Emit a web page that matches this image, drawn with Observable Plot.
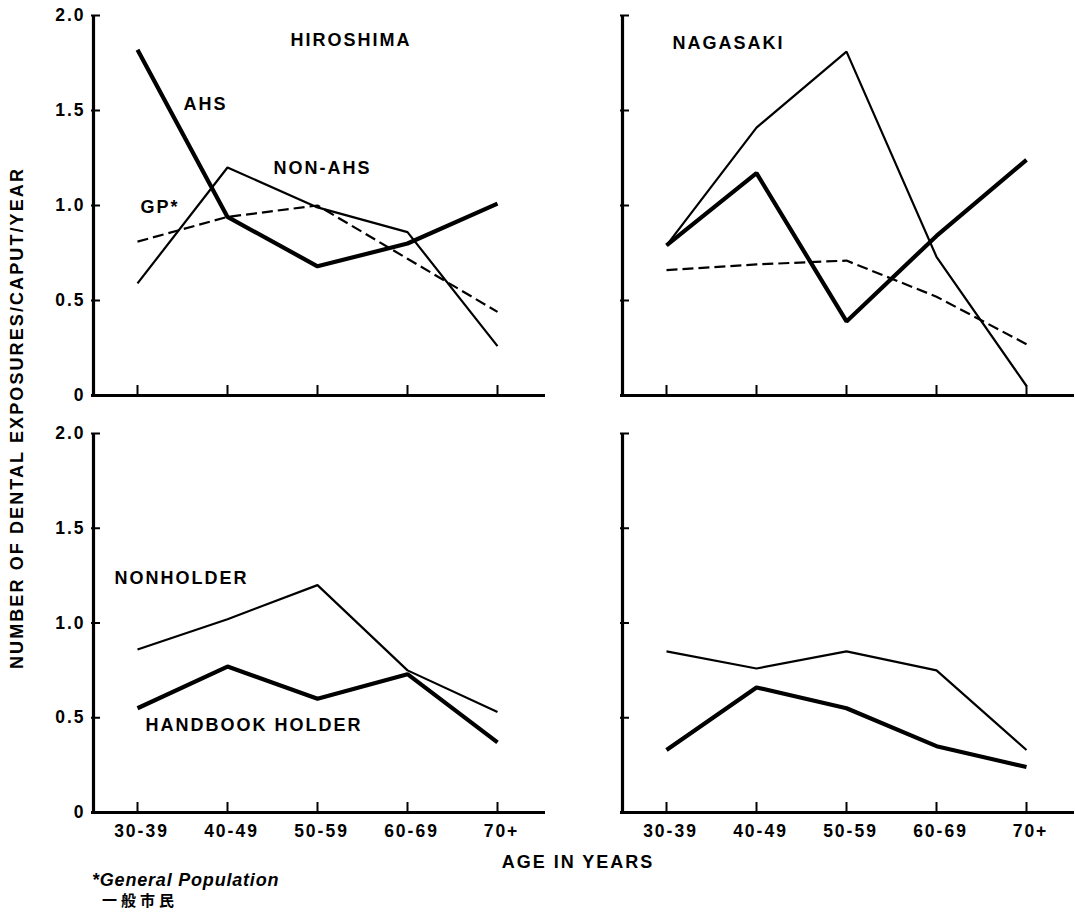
<!DOCTYPE html>
<html>
<head>
<meta charset="utf-8">
<script src="https://cdn.jsdelivr.net/npm/d3@7"></script>
<script src="https://cdn.jsdelivr.net/npm/@observablehq/plot@0.6"></script>
<style>
  body { margin: 0; background: #fff; }
  #wrap { position: relative; width: 1075px; height: 913px; overflow: hidden; font-family: "Liberation Sans", Arial, Helvetica, sans-serif; font-weight: bold; color: #000; }
  .panel { position: absolute; }
  .txt { position: absolute; white-space: nowrap; line-height: 1.15; }
</style>
</head>
<body>
<div id="wrap"></div>
<script>
// ---- data ----
const ages = ["30-39", "40-49", "50-59", "60-69", "70+"];
const yTicks = [0, 0.5, 1.0, 1.5, 2.0];
const yTickLabels = ["0", "0.5", "1.0", "1.5", "2.0"];

const hiroAHS    = [1.82, 0.94, 0.68, 0.80, 1.01];
const hiroNonAHS = [0.59, 1.20, 0.99, 0.86, 0.26];
const hiroGP     = [0.81, 0.94, 1.00, 0.72, 0.44];

const nagaAHS    = [0.79, 1.17, 0.39, 0.84, 1.24];
const nagaNonAHS = [0.79, 1.41, 1.81, 0.73, 0.05];
const nagaGP     = [0.66, 0.69, 0.71, 0.52, 0.27];

const hiroNonholder = [0.86, 1.02, 1.20, 0.75, 0.53];
const hiroHolder    = [0.55, 0.77, 0.60, 0.73, 0.37];
const nagaNonholder = [0.85, 0.76, 0.85, 0.75, 0.33];
const nagaHolder    = [0.33, 0.66, 0.55, 0.35, 0.24];

const cityNames = ["HIROSHIMA", "NAGASAKI"];
const seriesNames = ["AHS", "NON-AHS", "GP*", "NONHOLDER", "HANDBOOK HOLDER"];
const xTitle = "AGE IN YEARS";
const yTitle = "NUMBER OF DENTAL EXPOSURES/CAPUT/YEAR";
const footnote1 = "*General Population";
const footnote2 = "一般市民";

// ---- helpers ----
const toRows = (vals) => ages.map((a, i) => ({age: a, v: vals[i]}));
const THICK = 4.2, THIN = 2.2;
const FONT = "'Liberation Sans', Arial, Helvetica, sans-serif";

function lineMark(vals, style) {
  return Plot.line(toRows(vals), {x: "age", y: "v", stroke: "#000", strokeLinejoin: "miter", strokeLinecap: "butt", ...style});
}

function panel({left, top, showXLabels, showYLabels, series, texts}) {
  const W = 550, H = showXLabels ? 430 : 400;
  const mL = 91, mR = 5, mT = 15, mB = showXLabels ? 36 : 5;
  const frameW = W - mL - mR, frameH = H - mT - mB;
  const chart = Plot.plot({
    width: W,
    height: H,
    marginLeft: mL,
    marginRight: mR,
    marginTop: mT,
    marginBottom: mB,
    style: {fontFamily: FONT, fontSize: "17.5px", fontWeight: "bold", color: "#000", background: "transparent", overflow: "visible", letterSpacing: "2px"},
    x: {type: "point", domain: ages, range: [135, 498], padding: 0, tickSize: 0, tickPadding: 12,
        tickFormat: showXLabels ? (d => d) : (() => ""), label: null},
    y: {domain: [0, 2], ticks: yTicks, tickSize: 0, tickPadding: 6, label: null,
        tickFormat: showYLabels ? (d => yTickLabels[yTicks.indexOf(d)]) : (() => "")},
    marks: [
      Plot.ruleX([ages[0]], {dx: -44, y1: 0, y2: 2, stroke: "#000", strokeWidth: 3.2}),
      Plot.ruleY([0], {stroke: "#000", strokeWidth: 3.2}),
      Plot.tickX(ages, {x: d => d, insetTop: frameH - 10, stroke: "#000", strokeWidth: 2}),
      Plot.tickY(yTicks, {y: d => d, insetRight: frameW - 9, stroke: "#000", strokeWidth: 2}),
      ...series,
      ...texts
    ]
  });
  chart.classList.add("panel");
  chart.style.left = left + "px";
  chart.style.top = top + "px";
  chart.querySelectorAll("[aria-label='x-axis tick label'] text, [aria-label='x-axis'] text").forEach(t => {
    t.setAttribute("dx", "4");
  });
  return chart;
}

const labelStyle = {fontSize: 18, fontWeight: "bold", fill: "#000", textAnchor: "start", fontFamily: FONT};
function label(txt, age, v, dx) {
  return Plot.text([txt], {x: () => age, y: () => v, text: d => d, dx, ...labelStyle});
}

const wrap = document.getElementById("wrap");

wrap.appendChild(panel({
  left: 0, top: 0, showXLabels: false, showYLabels: true,
  series: [
    lineMark(hiroGP, {strokeWidth: THIN, strokeDasharray: "11,5"}),
    lineMark(hiroNonAHS, {strokeWidth: THIN}),
    lineMark(hiroAHS, {strokeWidth: THICK})
  ],
  texts: [
    label(cityNames[0], "50-59", 1.868, -27),
    label(seriesNames[0], "40-49", 1.532, -44),
    label(seriesNames[1], "50-59", 1.195, -44),
    label(seriesNames[2], "30-39", 0.99, 3)
  ]
}));

wrap.appendChild(panel({
  left: 529, top: 0, showXLabels: false, showYLabels: false,
  series: [
    lineMark(nagaGP, {strokeWidth: THIN, strokeDasharray: "11,5"}),
    lineMark(nagaNonAHS, {strokeWidth: THIN}),
    lineMark(nagaAHS, {strokeWidth: THICK})
  ],
  texts: [
    label(cityNames[1], "30-39", 1.853, 6)
  ]
}));

wrap.appendChild(panel({
  left: 0, top: 418, showXLabels: true, showYLabels: true,
  series: [
    lineMark(hiroNonholder, {strokeWidth: THIN}),
    lineMark(hiroHolder, {strokeWidth: THICK})
  ],
  texts: [
    label(seriesNames[3], "30-39", 1.237, -23),
    label(seriesNames[4], "30-39", 0.458, 8)
  ]
}));

wrap.appendChild(panel({
  left: 529, top: 418, showXLabels: true, showYLabels: false,
  series: [
    lineMark(nagaNonholder, {strokeWidth: THIN}),
    lineMark(nagaHolder, {strokeWidth: THICK})
  ],
  texts: []
}));

function addText(t, css) {
  const d = document.createElement("div");
  d.className = "txt";
  d.textContent = t;
  Object.assign(d.style, css);
  wrap.appendChild(d);
  return d;
}

addText(yTitle, {left: "17px", top: "418px", fontSize: "18px", letterSpacing: "2.1px", transform: "translate(-50%, -50%) rotate(-90deg)"});
addText(xTitle, {left: "578px", top: "862px", fontSize: "18px", letterSpacing: "2px", transform: "translate(-50%, -50%)"});
addText(footnote1, {left: "92px", top: "870px", fontSize: "18px", fontStyle: "italic", letterSpacing: "0.8px"});
addText(footnote2, {left: "102px", top: "891px", fontSize: "15px", fontFamily: "'Noto Sans CJK JP', sans-serif", letterSpacing: "4px"});
</script>
</body>
</html>
